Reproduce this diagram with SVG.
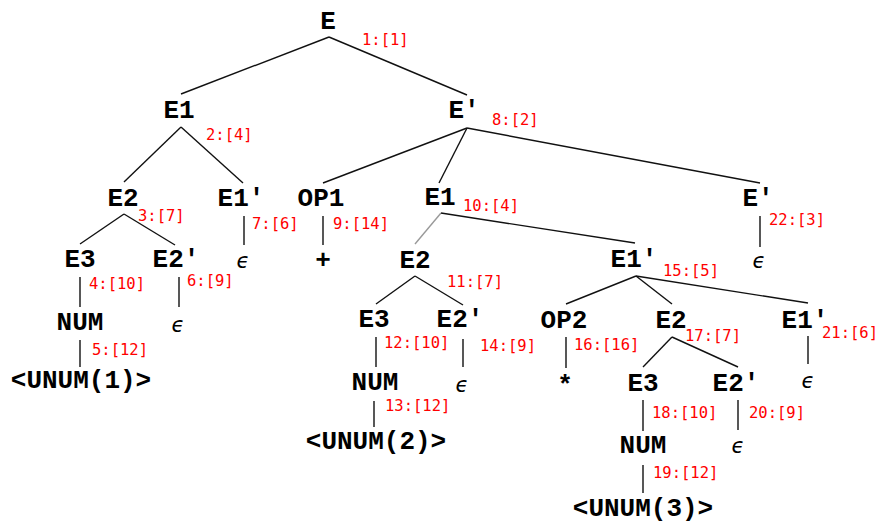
<svg xmlns="http://www.w3.org/2000/svg" width="882" height="524" viewBox="0 0 882 524">
<style>
.n{font-family:"Liberation Mono","Courier New",monospace;font-weight:bold;font-size:26px;fill:#000;text-anchor:middle}
.e{font-family:"DejaVu Sans",sans-serif;font-style:italic;font-size:21px;fill:#000;text-anchor:middle}
.l{font-family:"DejaVu Sans Mono",monospace;font-size:15.5px;fill:#f00}
.c line{stroke:#111;stroke-width:1.4}
.c line.g{stroke:#999}
</style>
<rect width="882" height="524" fill="#fff"/>
<g id="connectors" class="c">
<line x1="329" y1="37" x2="181" y2="94"/>
<line x1="329" y1="37" x2="467" y2="95"/>
<line x1="181" y1="127" x2="124" y2="182"/>
<line x1="181" y1="127" x2="243" y2="183"/>
<line x1="467" y1="128" x2="323" y2="183"/>
<line x1="467" y1="128" x2="439" y2="183"/>
<line x1="467" y1="128" x2="760" y2="183"/>
<line x1="124" y1="214" x2="80" y2="244"/>
<line x1="124" y1="214" x2="175" y2="245"/>
<line x1="244" y1="216" x2="244" y2="245"/>
<line x1="323" y1="216" x2="323" y2="245"/>
<line class="g" x1="441" y1="213" x2="415" y2="244"/>
<line x1="441" y1="213" x2="635" y2="243"/>
<line x1="760" y1="216" x2="760" y2="247"/>
<line x1="80" y1="277" x2="80" y2="307"/>
<line x1="179" y1="277" x2="179" y2="307"/>
<line x1="415" y1="276" x2="376" y2="304"/>
<line x1="415" y1="276" x2="463" y2="305"/>
<line x1="636" y1="276" x2="566" y2="304"/>
<line x1="636" y1="276" x2="672" y2="304"/>
<line x1="636" y1="276" x2="808" y2="303"/>
<line x1="80" y1="340" x2="80" y2="367"/>
<line x1="376" y1="337" x2="376" y2="367"/>
<line x1="463" y1="339" x2="463" y2="367"/>
<line x1="566" y1="337" x2="566" y2="368"/>
<line x1="672" y1="337" x2="643" y2="367"/>
<line x1="672" y1="337" x2="738" y2="367"/>
<line x1="808" y1="336" x2="808" y2="364"/>
<line x1="374" y1="401" x2="374" y2="427"/>
<line x1="643" y1="400" x2="643" y2="431"/>
<line x1="738" y1="400" x2="738" y2="430"/>
<line x1="643" y1="465" x2="643" y2="493"/>
</g>
<g id="node1"><text class="n" x="328" y="29">E</text><text class="l" x="362" y="45">1:[1]</text></g>
<g id="node2"><text class="n" x="179" y="118">E1</text><text class="l" x="206" y="140">2:[4]</text></g>
<g id="node3"><text class="n" x="123" y="206">E2</text><text class="l" x="138" y="221">3:[7]</text></g>
<g id="node4"><text class="n" x="80" y="267">E3</text><text class="l" x="89" y="289">4:[10]</text></g>
<g id="node5"><text class="n" x="80" y="330">NUM</text><text class="l" x="92" y="355">5:[12]</text></g>
<g id="leaf5"><text class="n" x="81" y="388">&lt;UNUM(1)&gt;</text></g>
<g id="node6"><text class="n" x="176" y="267">E2'</text><text class="l" x="187" y="286">6:[9]</text></g>
<g id="leaf6"><text class="e" x="178" y="332">ϵ</text></g>
<g id="node7"><text class="n" x="241" y="206">E1'</text><text class="l" x="252" y="229">7:[6]</text></g>
<g id="leaf7"><text class="e" x="243" y="268">ϵ</text></g>
<g id="node8"><text class="n" x="464" y="118">E'</text><text class="l" x="492" y="125">8:[2]</text></g>
<g id="node9"><text class="n" x="321" y="206">OP1</text><text class="l" x="333" y="229">9:[14]</text></g>
<g id="leaf9"><text class="n" x="323" y="268">+</text></g>
<g id="node10"><text class="n" x="440" y="205">E1</text><text class="l" x="463" y="211">10:[4]</text></g>
<g id="node11"><text class="n" x="415" y="268">E2</text><text class="l" x="447" y="287">11:[7]</text></g>
<g id="node12"><text class="n" x="374" y="327">E3</text><text class="l" x="384" y="348">12:[10]</text></g>
<g id="node13"><text class="n" x="375" y="390">NUM</text><text class="l" x="385" y="411">13:[12]</text></g>
<g id="leaf13"><text class="n" x="376" y="449">&lt;UNUM(2)&gt;</text></g>
<g id="node14"><text class="n" x="460" y="327">E2'</text><text class="l" x="480" y="351">14:[9]</text></g>
<g id="leaf14"><text class="e" x="462" y="392">ϵ</text></g>
<g id="node15"><text class="n" x="634" y="267">E1'</text><text class="l" x="663" y="276">15:[5]</text></g>
<g id="node16"><text class="n" x="564" y="328">OP2</text><text class="l" x="574" y="350">16:[16]</text></g>
<g id="leaf16"><text class="n" x="565" y="393">*</text></g>
<g id="node17"><text class="n" x="671" y="328">E2</text><text class="l" x="685" y="341">17:[7]</text></g>
<g id="node18"><text class="n" x="643" y="391">E3</text><text class="l" x="652" y="418">18:[10]</text></g>
<g id="node19"><text class="n" x="643" y="453">NUM</text><text class="l" x="653" y="478">19:[12]</text></g>
<g id="leaf19"><text class="n" x="643" y="516">&lt;UNUM(3)&gt;</text></g>
<g id="node20"><text class="n" x="736" y="391">E2'</text><text class="l" x="749" y="418">20:[9]</text></g>
<g id="leaf20"><text class="e" x="738" y="453">ϵ</text></g>
<g id="node21"><text class="n" x="805" y="328">E1'</text><text class="l" x="822" y="338">21:[6]</text></g>
<g id="leaf21"><text class="e" x="808" y="388">ϵ</text></g>
<g id="node22"><text class="n" x="758" y="206">E'</text><text class="l" x="769" y="225">22:[3]</text></g>
<g id="leaf22"><text class="e" x="759" y="268">ϵ</text></g>
</svg>
